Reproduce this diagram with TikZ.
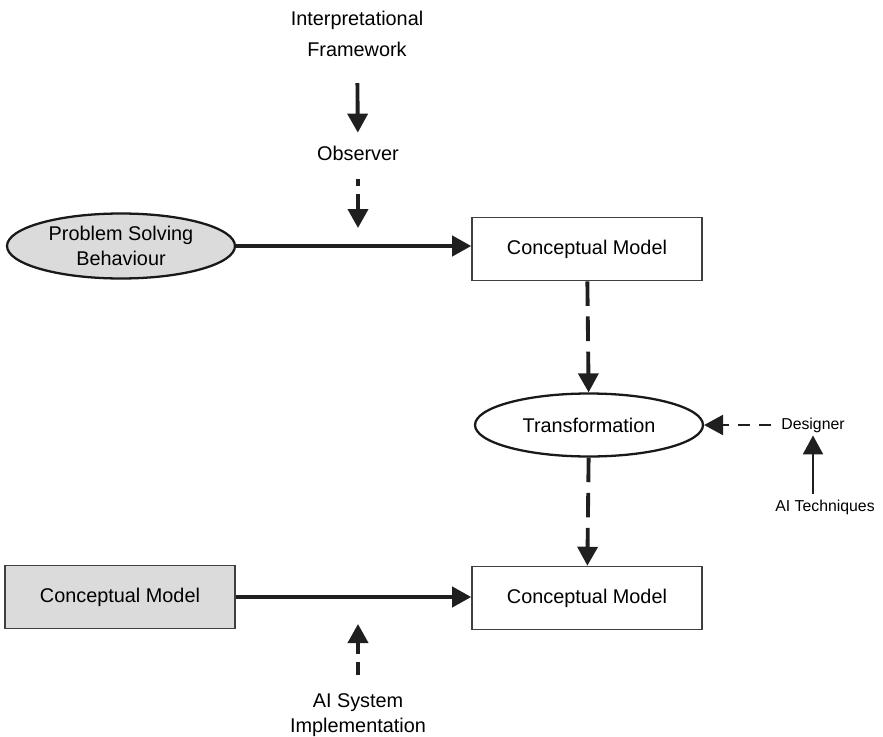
\documentclass[tikz,border=0pt]{standalone}
\usepackage{fontspec}
\setmainfont{Liberation Sans}
\usetikzlibrary{arrows.meta,shapes.geometric}

\begin{document}
\begin{tikzpicture}
	[x=0.02cm,y=-0.02cm,
	 font=\fontsize{11.3}{14}\selectfont,
	 flow/.style={-{Triangle[length=0.38cm,width=0.4cm]},line width=2.2pt,draw=black!88},
	 thinflow/.style={flow,line width=1.4pt},
	 dashflow/.style={flow,dash pattern=on 14pt off 6pt},
	 concept/.style={draw=black!75,line width=0.9pt,minimum width=4.6cm,minimum height=1.26cm,inner sep=0pt},
	 activity/.style={ellipse,draw=black!90,line width=1.3pt,minimum width=4.56cm,minimum height=1.3cm,inner sep=0pt,align=center},
	 actor/.style={inner sep=1pt,align=center}]
	\useasboundingbox (0,0) rectangle (883,737);

	% observer side
	\node[actor,font=\fontsize{11.3}{18}\selectfont] (frame) at (357,34) {Interpretational\\Framework};
	\node[actor] (obs) at (358,153) {Observer};
	\coordinate (obsin) at (358,228);

	% first modelling step
	\node[activity,fill=black!14] (psb) at (121,246) {Problem Solving\\Behaviour};
	\node[concept] (cm1) at (587,249) {Conceptual Model};

	% transformation and its inputs
	\node[activity,minimum height=1.26cm] (trans) at (589,425) {Transformation};
	\node[actor,font=\fontsize{9}{11}\selectfont] (des) at (813,425) {Designer};
	\node[actor,font=\fontsize{9}{11}\selectfont] (tech) at (825,507) {AI Techniques};

	% implementation step
	\node[concept,fill=black!14] (cm0) at (120,597) {Conceptual Model};
	\node[concept] (cm2) at (587,598) {Conceptual Model};
	\node[actor] (impl) at (358,715) {AI System\\Implementation};
	\coordinate (implin) at (358,624);

	% connectors
	\draw[flow,shorten <=0.48cm,shorten >=0.22cm] (frame) -- (obs);
	\draw[flow,shorten <=0.34cm,dash pattern=on 3.5pt off 5pt on 40pt] (obs) -- (obsin);
	\draw[flow] (psb) -- (psb -| cm1.west);
	\draw[dashflow] (cm1) -- (trans);
	\draw[thinflow,dash pattern=on 7pt off 5pt,shorten <=0.16cm] (des) -- (trans);
	\draw[thinflow,shorten <=0.08cm,shorten >=0.02cm] (tech.north -| des.south) -- (des.south);
	\draw[dashflow] (trans) -- (cm2);
	\draw[flow] (cm0) -- (cm0 -| cm2.west);
	\draw[flow,shorten <=0.34cm,dash pattern=on 7pt off 5pt on 40pt] (impl) -- (implin);
\end{tikzpicture}
\end{document}
